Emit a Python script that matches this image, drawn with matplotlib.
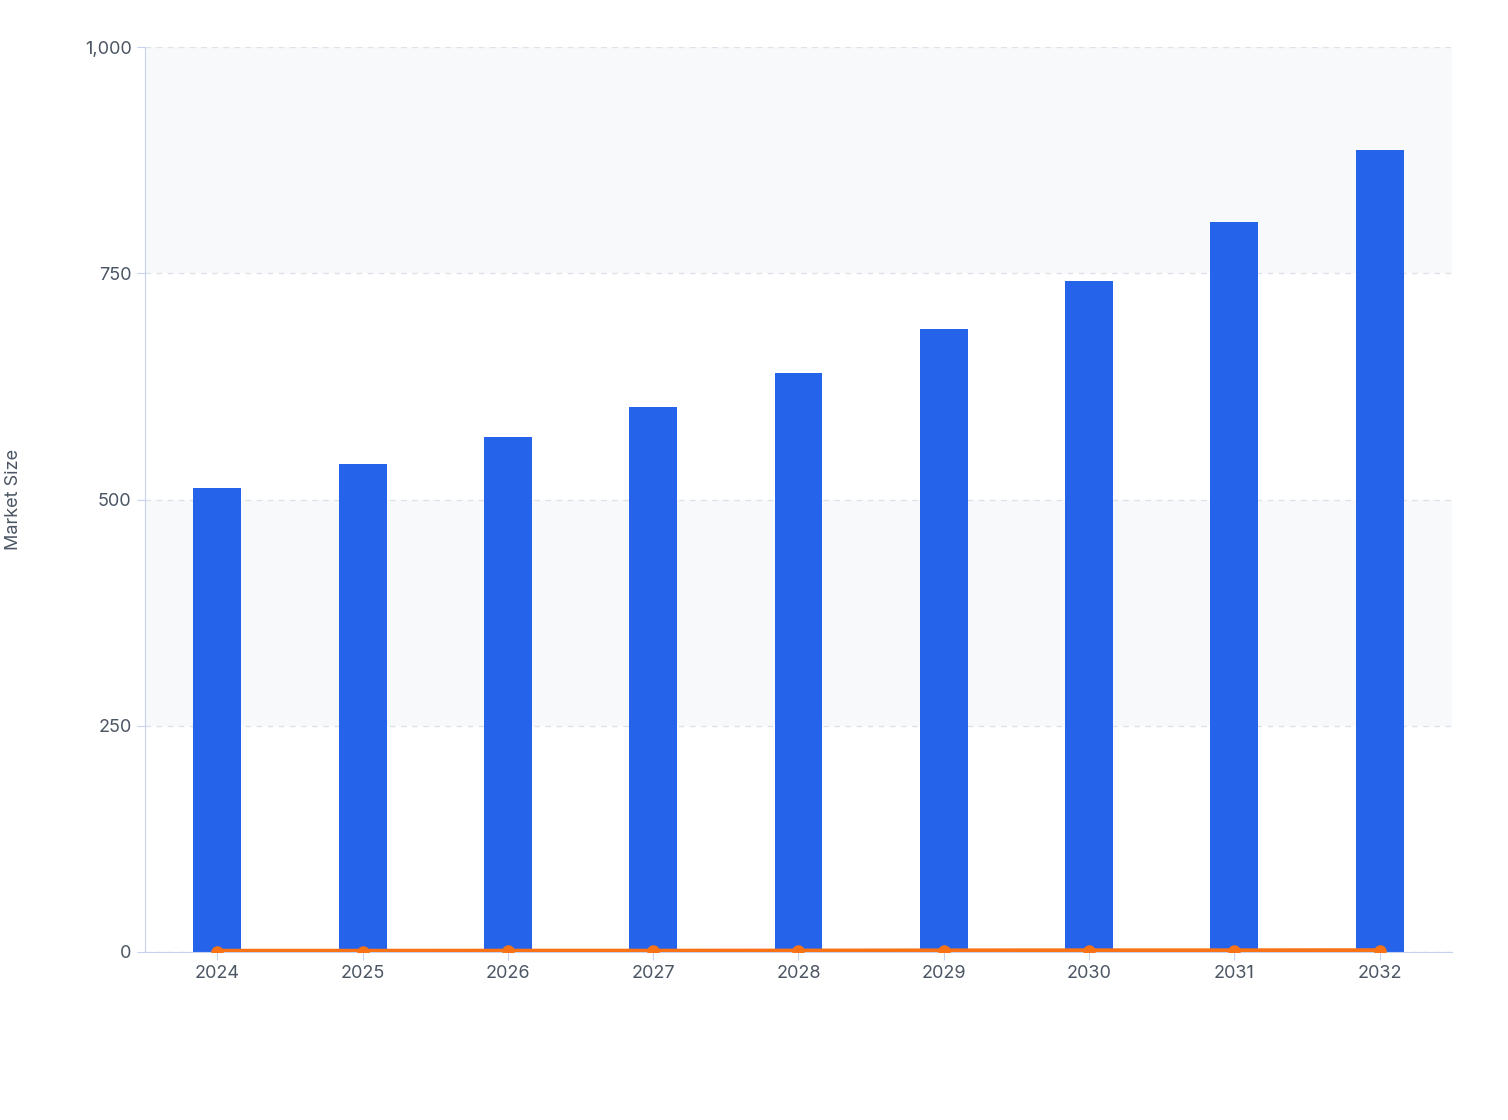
import matplotlib
matplotlib.use("Agg")
import matplotlib.pyplot as plt

years = ["2024","2025","2026","2027","2028","2029","2030","2031","2032"]
market = [513, 539, 569, 602, 640, 688, 742, 807, 886]
growth = [0.5, 0.5, 0.6, 0.6, 0.7, 0.9, 1.0, 1.0, 1.1]
yticks = [0, 250, 500, 750, 1000]

plt.rcParams['font.family'] = ['Inter', 'DejaVu Sans']
fig = plt.figure(figsize=(15.08, 11.2), dpi=100)
ax = fig.add_axes([0.096, 0.15, 0.867, 0.808])
x = list(range(len(years)))
for lo, hi in [(250, 500), (750, 1000)]:
    ax.axhspan(lo, hi, color='#f8f9fb', zorder=0, lw=0)
ax.bar(x, market, width=0.33, color='#2563eb', zorder=2)
ax.plot(x, growth, color='#f97316', lw=4, marker='o', ms=8, zorder=3)
ax.set_xlim(-0.5, len(years) - 0.5)
ax.set_ylim(0, 1000)
ax.set_yticks(yticks)
ax.set_yticklabels([f"{v:,}" for v in yticks])
ax.set_xticks(x)
ax.set_xticklabels(years)
ax.grid(axis='y', color='#dde1e8', ls=(0, (4, 4)), lw=1, zorder=1)
for s in ['top', 'right']:
    ax.spines[s].set_visible(False)
for s in ['left', 'bottom']:
    ax.spines[s].set_color('#c7d2f0')
ax.tick_params(colors='#c7d2f0', labelcolor='#4b5563', labelsize=13, length=6)
ax.set_ylabel("Market Size", fontsize=13, color='#4b5563', labelpad=45)
fig.savefig("out.png")
